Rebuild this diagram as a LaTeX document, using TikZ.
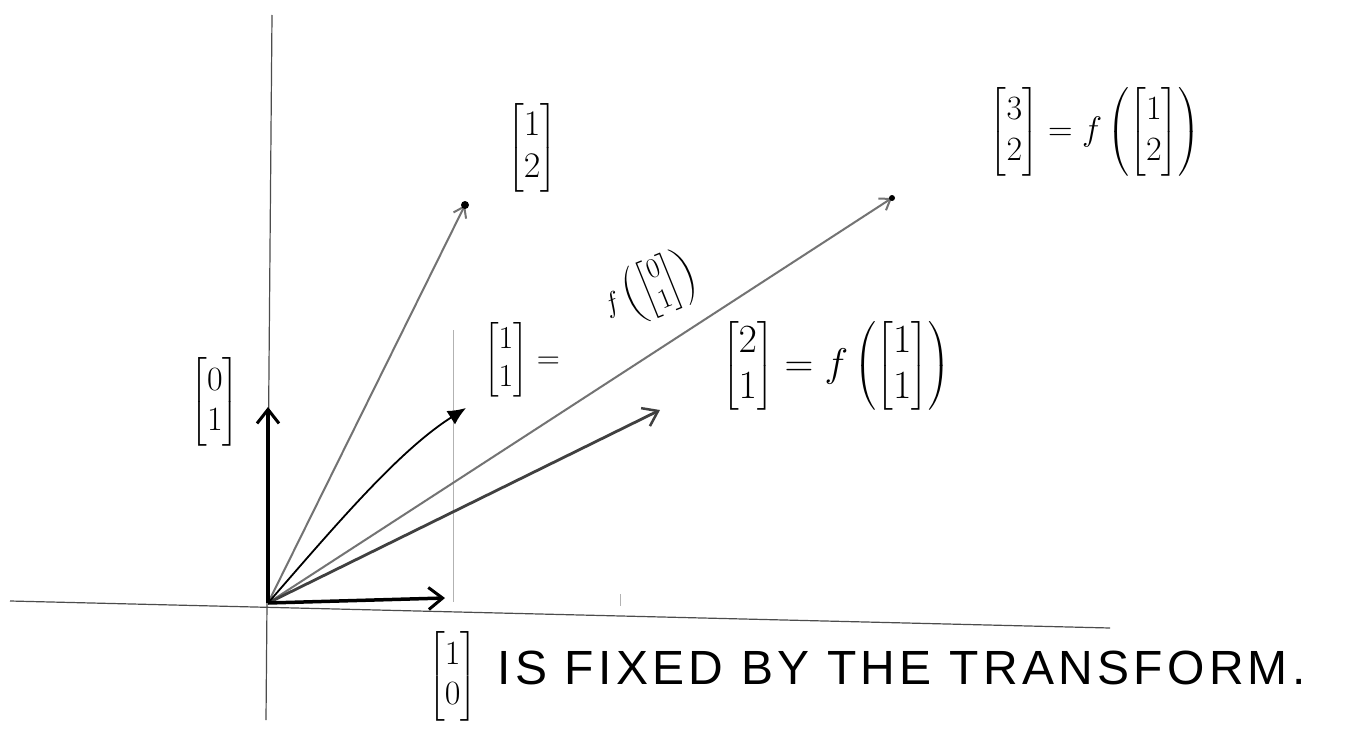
\documentclass[tikz,border=0pt]{standalone}
\usepackage{fix-cm}
\usepackage{amsmath}
\usepackage{fontspec}
\newfontfamily\handsans[LetterSpace=9]{Liberation Sans}
\usetikzlibrary{arrows.meta}
\tikzset{
  axis/.style={draw=black!70, line width=1.2pt},
  grid/.style={draw=black!30, line width=0.8pt},
  vecthick/.style={draw=black, line width=3.5pt, -{Straight Barb[length=14pt,width=22pt,line width=3pt]}},
  vecblack/.style={draw=black, line width=1.8pt, -{Latex[length=18pt,width=16pt]}},
  vecgray/.style={draw=black!55, line width=2pt, -{Straight Barb[length=10pt,width=14pt,line width=2pt]}},
  vecdark/.style={draw=black!75, line width=2.8pt, -{Straight Barb[length=14pt,width=20pt,line width=2.5pt]}},
  lbl/.style={inner sep=0pt, text=black}
}
\begin{document}
\begin{tikzpicture}[x=1pt,y=-1pt]
\useasboundingbox (0,0) rectangle (1348,741);
\fill[white] (0,0) rectangle (1348,741);
% axes
\coordinate (yt) at (272,15);
\coordinate (yb) at (266,720);
\coordinate (xl) at (10,601);
\coordinate (xr) at (1110,628);
\draw[axis] (yt) -- (yb);
\draw[axis] (xl) -- (xr);
\coordinate (gt) at (453,330);
\coordinate (gb) at (453,602);
\draw[grid] (gt) -- (gb);
\coordinate (tk1) at (620,594);
\coordinate (tk2) at (620,606);
\draw[grid] (tk1) -- (tk2);
% origin and tips
\coordinate (O) at (268,603);
\coordinate (e1) at (445,598);
\coordinate (e2) at (268,407);
\coordinate (p12) at (465,205);
\coordinate (p11) at (466,408);
\coordinate (p32) at (892,198);
\coordinate (p21) at (660,410);
\draw[vecgray] (O) -- (p12);
\draw[vecgray] (O) -- (p32);
\draw[vecdark] (O) -- (p21);
\draw[vecblack] (O) .. controls (340,520) and (400,450) .. (p11);
\draw[vecthick] (O) -- (e2);
\draw[vecthick] (O) -- (e1);
\fill (p12) circle (4pt);
\fill (p32) circle (3pt);
% labels
\node[lbl] (l12) at (532,148) {\fontsize{36}{42}\selectfont$\begin{bmatrix}1\\2\end{bmatrix}$};
\node[lbl] (l32) at (1095,132) {\fontsize{34}{40}\selectfont$\begin{bmatrix}3\\2\end{bmatrix}=f\left(\begin{bmatrix}1\\2\end{bmatrix}\right)$};
\node[lbl] (l11) at (522,360) {\fontsize{32}{38}\selectfont$\begin{bmatrix}1\\1\end{bmatrix}=$};
\node[lbl, rotate=22] (l11f) at (650,290) {\fontsize{28}{32}\selectfont$f\left(\begin{bmatrix}0\\1\end{bmatrix}\right)$};
\node[lbl] (l21) at (836,366) {\fontsize{40}{46}\selectfont$\begin{bmatrix}2\\1\end{bmatrix}=f\left(\begin{bmatrix}1\\1\end{bmatrix}\right)$};
\node[lbl] (l01) at (215,402) {\fontsize{34}{40}\selectfont$\begin{bmatrix}0\\1\end{bmatrix}$};
\node[lbl, anchor=west] (l10) at (428,676) {\fontsize{34}{40}\selectfont$\begin{bmatrix}1\\0\end{bmatrix}$\ \ \handsans\fontsize{48}{54}\selectfont IS FIXED BY THE TRANSFORM.};
\end{tikzpicture}
\end{document}
